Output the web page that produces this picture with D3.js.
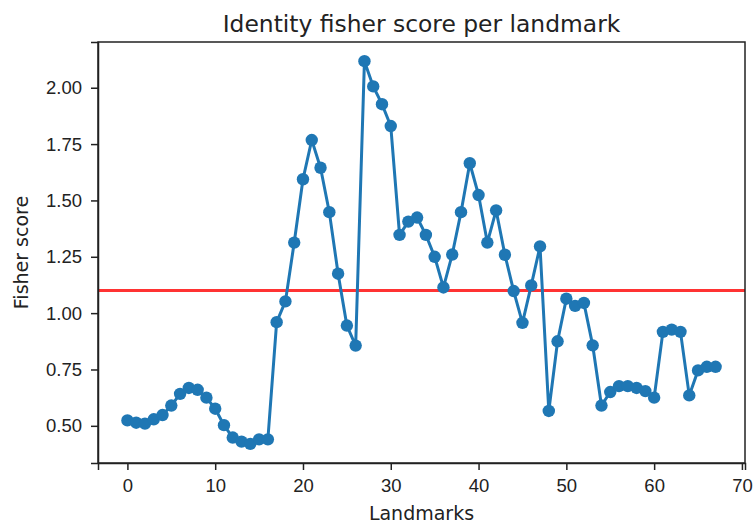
<!DOCTYPE html>
<html>
<head>
<meta charset="utf-8">
<script src="https://cdn.jsdelivr.net/npm/d3@7"></script>
<style>
  body { margin: 0; background: #fff; }
  svg { display: block; font-family: 'DejaVu Sans', sans-serif; }
  .axis text { font-size: 18.5px; fill: #222; }
  .axis path, .axis line { stroke: #222; stroke-width: 1.5px; }
</style>
</head>
<body>
<div id="chart"></div>
<script>
// fisher score for each landmark index
var landmarks = d3.range(0, 68);
var scores = [
  0.524, 0.514, 0.510, 0.529, 0.548, 0.590, 0.642, 0.668, 0.660, 0.625,
  0.576, 0.503, 0.448, 0.430, 0.420, 0.440, 0.440, 0.960, 1.052, 1.313,
  1.594, 1.768, 1.645, 1.448, 1.175, 0.945, 0.856, 2.118, 2.006, 1.927,
  1.830, 1.347, 1.406, 1.424, 1.347, 1.250, 1.114, 1.260, 1.448, 1.665,
  1.524, 1.313, 1.456, 1.259, 1.098, 0.957, 1.123, 1.296, 0.566, 0.875,
  1.064, 1.032, 1.045, 0.857, 0.590, 0.650, 0.676, 0.676, 0.668, 0.654,
  0.625, 0.917, 0.927, 0.917, 0.635, 0.746, 0.762, 0.762
];
var threshold = 1.1;
var xTicks = [0, 10, 20, 30, 40, 50, 60, 70];
var yTicks = [0.50, 0.75, 1.00, 1.25, 1.50, 1.75, 2.00];

var data = landmarks.map(function(d, i) {
  return { idx: d, value: scores[i] };
});

// graph dimensions and margins
var margin = { top: 42, right: 11, bottom: 61, left: 98 };
var W = 756, H = 524;
var width = W - margin.left - margin.right;
var height = H - margin.top - margin.bottom;

// matplotlib style 5% padding on both axes
var xExt = d3.extent(data, function(d) { return d.idx; });
var yExt = d3.extent(data, function(d) { return d.value; });
var xPad = (xExt[1] - xExt[0]) * 0.05;
var yPad = (yExt[1] - yExt[0]) * 0.05;

var x = d3.scaleLinear().domain([xExt[0] - xPad, xExt[1] + xPad]).range([0, width]);
var y = d3.scaleLinear().domain([yExt[0] - yPad, yExt[1] + yPad]).range([height, 0]);

var svg = d3.select('#chart')
  .append('svg')
  .attr('width', W)
  .attr('height', H)
  .append('g')
  .attr('transform', 'translate(' + margin.left + ',' + margin.top + ')');

// threshold line
svg.append('line')
  .attr('x1', 0)
  .attr('x2', width)
  .attr('y1', y(threshold))
  .attr('y2', y(threshold))
  .attr('stroke', '#ff0000')
  .attr('stroke-opacity', 0.8)
  .attr('stroke-width', 3);

// score line
var valueline = d3.line()
  .x(function(d) { return x(d.idx); })
  .y(function(d) { return y(d.value); });

svg.append('path')
  .datum(data)
  .attr('fill', 'none')
  .attr('stroke', '#1f77b4')
  .attr('stroke-width', 3)
  .attr('d', valueline);

// markers
svg.selectAll('circle')
  .data(data)
  .enter().append('circle')
  .attr('cx', function(d) { return x(d.idx); })
  .attr('cy', function(d) { return y(d.value); })
  .attr('r', 6.2)
  .attr('fill', '#1f77b4');

// axes
svg.append('g')
  .attr('class', 'axis')
  .attr('transform', 'translate(0,' + height + ')')
  .call(d3.axisBottom(x).tickValues(xTicks).tickFormat(d3.format('d'))
    .tickSizeOuter(0).tickSize(7).tickPadding(9));

svg.append('g')
  .attr('class', 'axis')
  .call(d3.axisLeft(y).tickValues(yTicks).tickFormat(d3.format('.2f'))
    .tickSizeOuter(0).tickSize(7).tickPadding(9));

// frame (top and right spines)
svg.append('rect')
  .attr('width', width)
  .attr('height', height)
  .attr('fill', 'none')
  .attr('stroke', '#222')
  .attr('stroke-width', 1.5);

// title and axis labels
svg.append('text')
  .attr('x', width / 2)
  .attr('y', -10)
  .attr('text-anchor', 'middle')
  .style('font-size', '23.4px')
  .style('fill', '#222')
  .text('Identity fisher score per landmark');

svg.append('text')
  .attr('x', width / 2)
  .attr('y', height + 57)
  .attr('text-anchor', 'middle')
  .style('font-size', '19px')
  .style('fill', '#222')
  .text('Landmarks');

svg.append('text')
  .attr('transform', 'translate(' + (-70) + ',' + (height / 2) + ') rotate(-90)')
  .attr('text-anchor', 'middle')
  .style('font-size', '19px')
  .style('fill', '#222')
  .text('Fisher score');
</script>
</body>
</html>
